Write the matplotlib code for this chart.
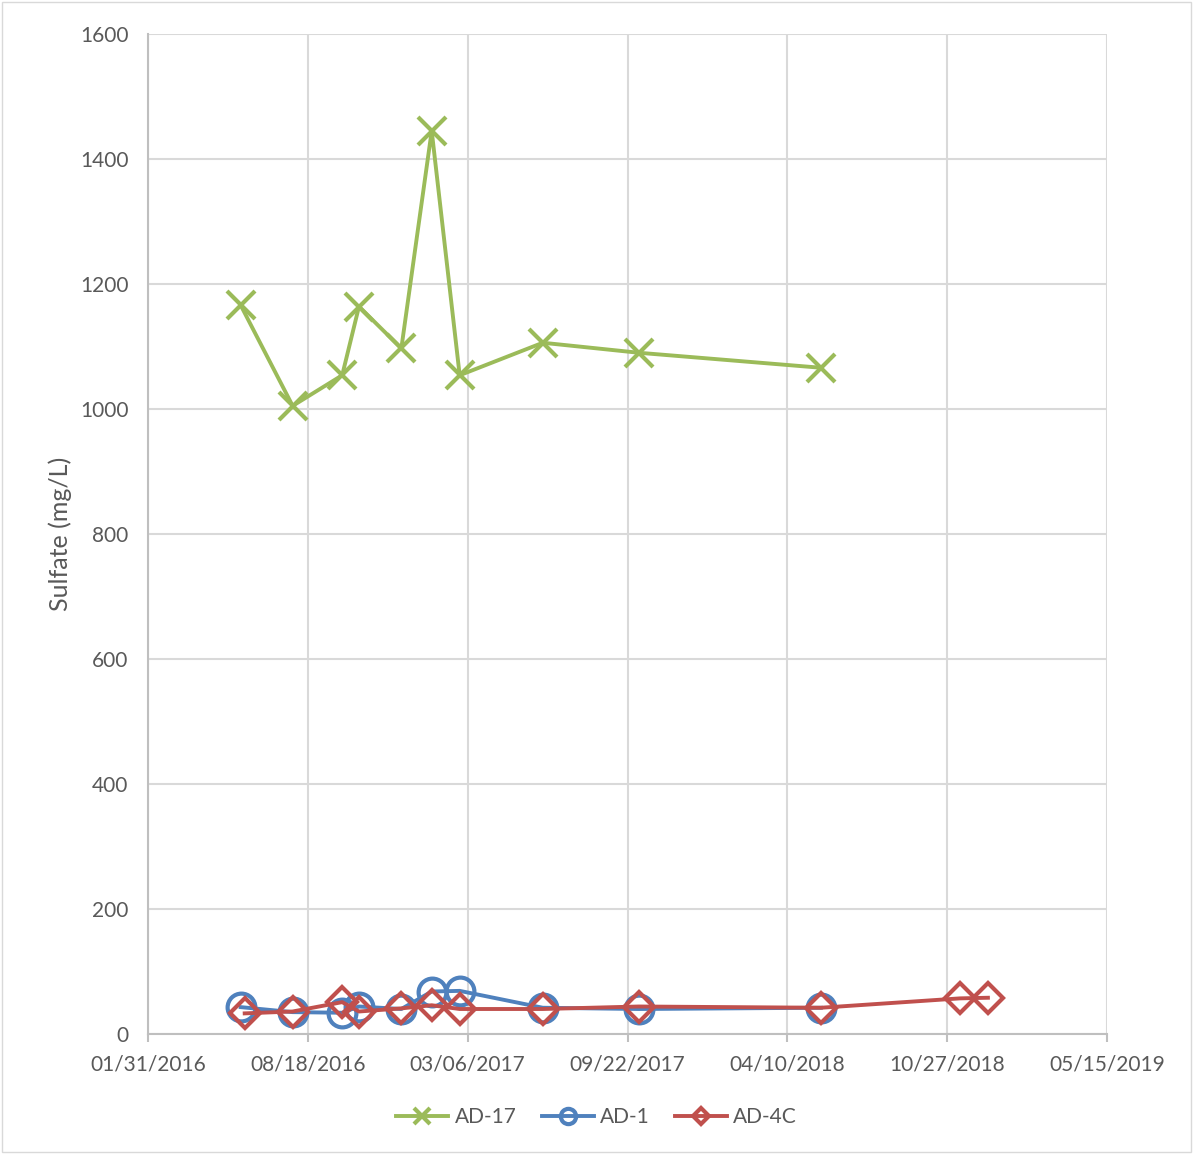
import pandas as pd
import matplotlib.pyplot as plt
import matplotlib.dates as mdates
from matplotlib.patches import Rectangle

# sample dates and values
dates_ad17 = ["2016-05-26", "2016-07-30", "2016-09-30", "2016-10-21", "2016-12-13",
              "2017-01-20", "2017-02-24", "2017-06-08", "2017-10-06", "2018-05-22"]
sulfate_ad17 = [1166, 1005, 1054, 1164, 1097, 1445, 1054, 1106, 1090, 1066]

dates_ad1 = ["2016-05-26", "2016-07-30", "2016-09-30", "2016-10-21", "2016-12-13",
             "2017-01-20", "2017-02-24", "2017-06-08", "2017-10-06", "2018-05-22"]
sulfate_ad1 = [43, 35, 34, 44, 40, 68, 69, 42, 40, 42]

dates_ad4c = ["2016-05-31", "2016-07-30", "2016-09-30", "2016-10-21", "2016-12-13",
              "2017-01-20", "2017-02-24", "2017-06-08", "2017-10-06", "2018-05-22",
              "2018-11-12", "2018-12-17"]
sulfate_ad4c = [33, 36, 51, 36, 41, 46, 40, 40, 44, 42, 57, 58]

x_ticks = ["2016-01-31", "2016-08-18", "2017-03-06", "2017-09-22", "2018-04-10",
           "2018-10-27", "2019-05-15"]
y_ticks = [0, 200, 400, 600, 800, 1000, 1200, 1400, 1600]

plt.rcParams['font.family'] = ['Lato', 'DejaVu Sans']
text_color = '#595959'

fig = plt.figure(figsize=(11.93, 11.54), dpi=100)
ax = fig.add_axes([148 / 1193, 1 - 1034 / 1154, (1107 - 148) / 1193, 1000 / 1154])

series = [
    ("AD-17", dates_ad17, sulfate_ad17, '#9BBB59', 'x'),
    ("AD-1", dates_ad1, sulfate_ad1, '#4F81BD', 'o'),
    ("AD-4C", dates_ad4c, sulfate_ad4c, '#C0504D', 'D'),
]
for name, d, v, col, mk in series:
    ms = 20 if mk != 'D' else 15
    ax.plot(pd.to_datetime(d), v, color=col, lw=2.8, marker=mk, ms=ms,
            mfc='none', mec=col, mew=3, label=name)

xt = pd.to_datetime(x_ticks)
ax.set_xlim(xt[0], xt[-1])
ax.set_xticks(xt)
ax.xaxis.set_major_formatter(mdates.DateFormatter('%m/%d/%Y'))
ax.set_ylim(0, 1600)
ax.set_yticks(y_ticks)

ax.grid(True, color='#d9d9d9', lw=1.5)
ax.set_axisbelow(True)
for s in ['top', 'right']:
    ax.spines[s].set_visible(False)
for s in ['left', 'bottom']:
    ax.spines[s].set_color('#bfbfbf')
    ax.spines[s].set_linewidth(1.5)
ax.tick_params(axis='y', length=0, pad=14, labelsize=15, labelcolor=text_color)
ax.tick_params(axis='x', length=6, color='#bfbfbf', width=1.5, pad=9,
               labelsize=15, labelcolor=text_color)
ax.set_ylabel("Sulfate (mg/L)", fontsize=18, color=text_color, labelpad=6)

leg = fig.legend(loc='center', bbox_to_anchor=(0.5, 1 - 1117 / 1154), ncol=3,
                 frameon=False, fontsize=15, markerscale=0.55, handlelength=2.5,
                 columnspacing=1.2, handletextpad=0.3)
for t in leg.get_texts():
    t.set_color(text_color)

fig.patches.append(Rectangle((0.002, 0.002), 0.996, 0.996, transform=fig.transFigure,
                             fill=False, ec='#d9d9d9', lw=1))

fig.savefig("out.png", dpi=100)
